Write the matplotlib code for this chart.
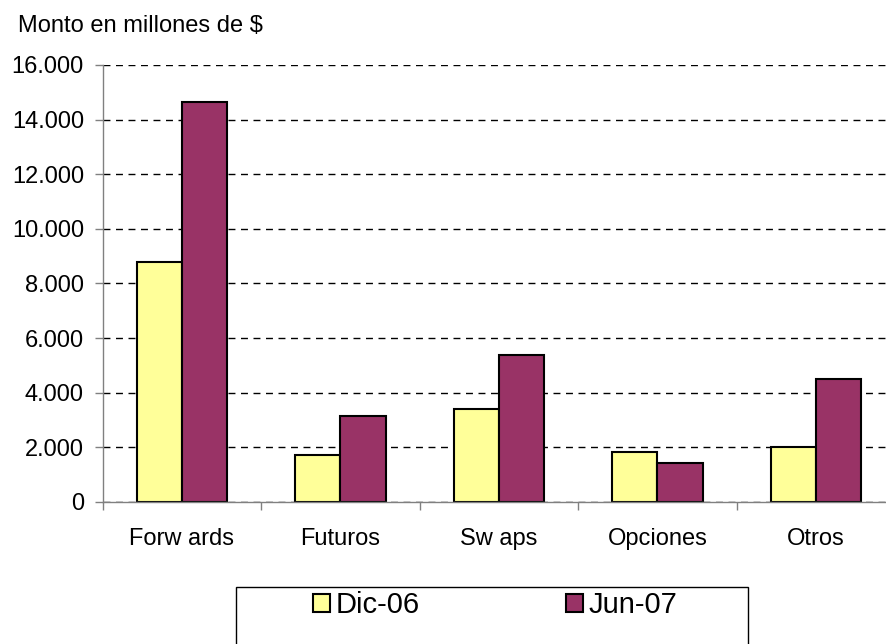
import matplotlib
matplotlib.use("Agg")
import matplotlib.pyplot as plt
import matplotlib.patches as mpatches
import numpy as np

plt.rcParams['font.family'] = ['Liberation Sans', 'DejaVu Sans']

categorias = ["Forw ards", "Futuros", "Sw aps", "Opciones", "Otros"]
dic06 = [8780, 1720, 3400, 1830, 2000]
jun07 = [14650, 3150, 5380, 1420, 4490]
series = ["Dic-06", "Jun-07"]
colores = ["#FFFF99", "#993366"]

fig = plt.figure(figsize=(8.87, 6.44), dpi=100)
ax = fig.add_axes([0.1158, 0.2205, 0.8935, 0.6786])

x = np.arange(len(categorias))
w = 0.286
ax.bar(x - w / 2, dic06, w, color=colores[0], edgecolor="black", linewidth=1.5, label=series[0], zorder=3)
ax.bar(x + w / 2, jun07, w, color=colores[1], edgecolor="black", linewidth=1.5, label=series[1], zorder=3)

ax.set_xlim(-0.5, len(categorias) - 0.5)
ax.set_ylim(0, 16000)
ax.set_yticks(np.arange(0, 16001, 2000))
ax.set_yticklabels([f"{v:,}".replace(",", ".") for v in range(0, 16001, 2000)], fontsize=17)
ax.set_xticks(x)
ax.set_xticklabels(categorias, fontsize=17)
ax.set_xticks(np.arange(-0.5, len(categorias), 1.0), minor=True)
ax.tick_params(axis="x", which="major", length=0, pad=19)
ax.tick_params(axis="x", which="minor", length=6, color="#808080", width=1)
ax.tick_params(axis="y", length=6, color="#808080", width=1, pad=7.5)

ax.yaxis.grid(True, color="black", linestyle=(0, (5, 4)), linewidth=1, zorder=0)
ax.set_axisbelow(True)
for s in ["top", "right"]:
    ax.spines[s].set_visible(False)
for s in ["left", "bottom"]:
    ax.spines[s].set_color("#808080")
    ax.spines[s].set_linewidth(1)
    ax.spines[s].set_zorder(4)

fig.text(0.02, 0.960, "Monto en millones de $", fontsize=17, va="center", ha="left")

# recuadro de la leyenda
fig.patches.append(mpatches.Rectangle((236 / 887, -0.05), (748 - 236) / 887, (644 - 587) / 644 + 0.05,
                                      transform=fig.transFigure, facecolor="white", edgecolor="black",
                                      linewidth=1, zorder=1))
leg = fig.legend(loc="center", bbox_to_anchor=(0.5586, 1 - 605 / 644), ncol=2, frameon=False,
                 fontsize=21, handlelength=0.58, handleheight=0.58, handletextpad=0.2,
                 columnspacing=5.0)

fig.savefig("out.png", dpi=100)
